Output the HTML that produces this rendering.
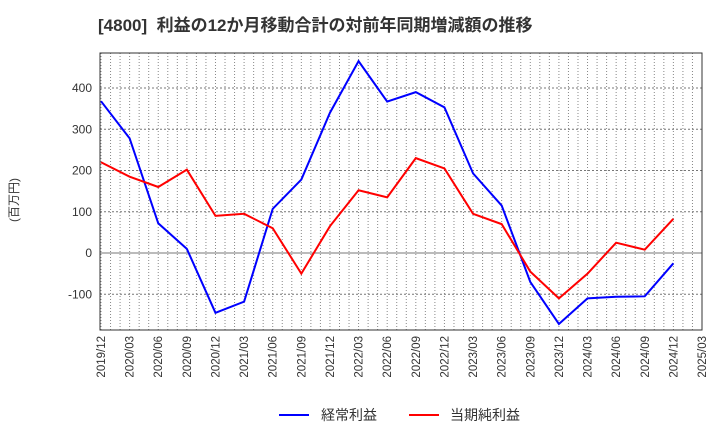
<!DOCTYPE html>
<html><head><meta charset="utf-8"><style>
body{margin:0;background:#fff;}
svg text{font-family:"Liberation Sans","Noto Sans CJK JP",sans-serif;}
</style></head><body>
<svg width="720" height="440" viewBox="0 0 720 440">
<text x="98" y="31" font-size="17" font-weight="bold" fill="#333">[4800]&#160;&#160;利益の12か月移動合計の対前年同期増減額の推移</text>
<text x="18" y="200" font-size="12" fill="#333" transform="rotate(-90 18 200)" text-anchor="middle">(百万円)</text>
<g id="grid"></g><g id="axes"></g><g id="series"></g>
<g>
<line x1="279" y1="415" x2="309" y2="415" stroke="#0000ff" stroke-width="2"/>
<text x="321" y="420" font-size="14" fill="#333">経常利益</text>
<line x1="409" y1="415" x2="439" y2="415" stroke="#ff0000" stroke-width="2"/>
<text x="450" y="420" font-size="14" fill="#333">当期純利益</text>
</g>
</svg>
<script>
const categories=["2019/12","2020/03","2020/06","2020/09","2020/12","2021/03","2021/06","2021/09","2021/12","2022/03","2022/06","2022/09","2022/12","2023/03","2023/06","2023/09","2023/12","2024/03","2024/06","2024/09","2024/12","2025/03"];
const ordinaryProfit=[368,278,72,10,-145,-118,107,178,340,465,367,390,353,193,115,-70,-172,-110,-106,-105,-25];
const netProfit=[220,185,160,202,90,95,60,-50,65,152,135,230,205,95,70,-45,-110,-50,25,8,83];
const yTicks=[-100,0,100,200,300,400];
const L=100,R=702,T=53,B=330;
const NS="http://www.w3.org/2000/svg";
const xs=i=>L+1+i*(R-L-1)/(categories.length-1);
const ys=v=>253-v*0.4125;
function mk(tag,attrs,parent){const e=document.createElementNS(NS,tag);for(const k in attrs)e.setAttribute(k,attrs[k]);parent.appendChild(e);return e;}
const grid=document.getElementById('grid'),axes=document.getElementById('axes'),ser=document.getElementById('series');
for(let m=0;m<=(categories.length-1)*3;m++){const x=L+1+m*(R-L-1)/((categories.length-1)*3);
const g=mk('line',{x1:x,x2:x,y1:T,y2:B,stroke:'#888','stroke-dasharray':'1,2','stroke-width':1},grid);

}
yTicks.forEach(v=>{const y=ys(v);
const g=mk('line',{x1:L,x2:R,y1:y,y2:y,stroke:'#777','stroke-dasharray':v===0?'none':'2,2','stroke-width':1},grid);


const t=mk('text',{x:L-8,y:y+4,'text-anchor':'end','font-size':12,fill:'#333'},axes);t.textContent=v;

});
const fr=mk('rect',{x:L,y:T,width:R-L,height:B-T,fill:'none',stroke:'#333','stroke-width':1},axes);


categories.forEach((c,i)=>{const x=xs(i)+4,y=B+6;
const t=mk('text',{x:x,y:y,'text-anchor':'end','font-size':11.5,fill:'#333',transform:`rotate(-90 ${x} ${y})`},axes);t.textContent=c;

});
function line(data,color,name){const p=mk('polyline',{points:data.map((v,i)=>xs(i)+','+ys(v)).join(' '),fill:'none',stroke:color,'stroke-width':2},ser);

}
line(ordinaryProfit,'#0000ff','ordinary-profit-line');
line(netProfit,'#ff0000','net-profit-line');
</script>
</body></html>
